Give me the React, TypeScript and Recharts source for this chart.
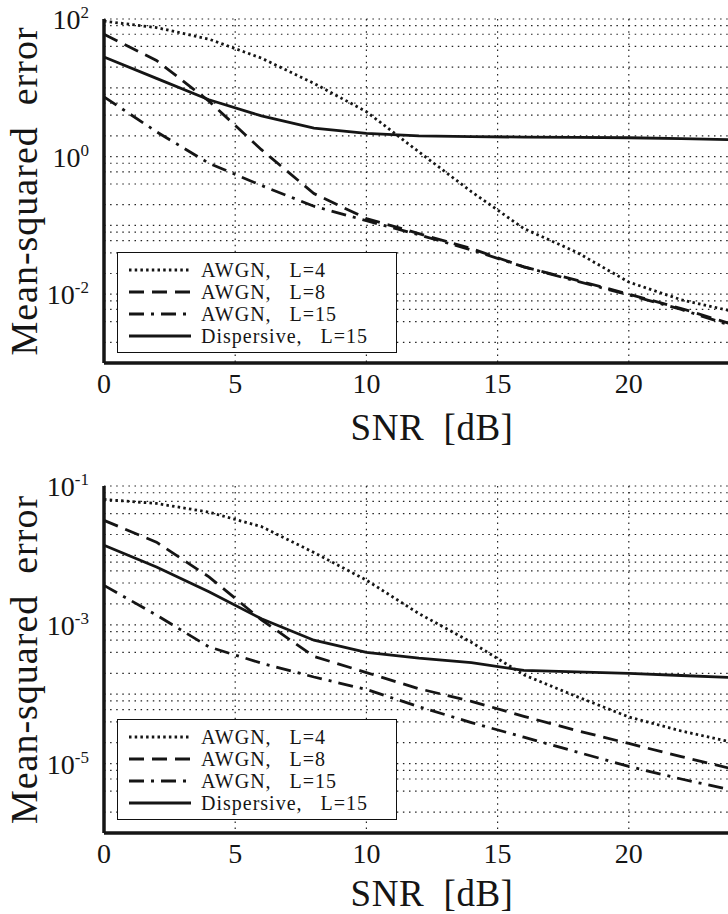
import React from "react";
import {
  LineChart,
  Line,
  XAxis,
  YAxis,
  CartesianGrid,
  Legend,
  Label,
} from "recharts";

// ---------- data ----------
const snr = [0, 2, 4, 6, 8, 10, 12, 14, 16, 18, 20, 22, 24];
const xTicks = [0, 5, 10, 15, 20];

// upper panel
const awgnL4Top = [93, 75, 51, 27, 11.6, 4.5, 1.17, 0.31, 0.09, 0.041, 0.015, 0.0083, 0.0056];
const awgnL8Top = [60, 25, 6.4, 1.26, 0.29, 0.126, 0.076, 0.046, 0.025, 0.016, 0.01, 0.0062, 0.0036];
const awgnL15Top = [7.4, 2.3, 0.8, 0.38, 0.19, 0.117, 0.073, 0.044, 0.025, 0.0155, 0.0098, 0.006, 0.0034];
const dispersiveTop = [28, 13.7, 6.7, 3.9, 2.6, 2.17, 2.0, 1.95, 1.92, 1.9, 1.88, 1.83, 1.76];

// lower panel
const awgnL4Bottom = [0.064, 0.056, 0.042, 0.026, 0.011, 0.0044, 0.00145, 0.00056, 0.00019, 0.000093, 0.000047, 0.0000295, 0.00002];
const awgnL8Bottom = [0.032, 0.0155, 0.0049, 0.00118, 0.00035, 0.000205, 0.00012, 0.000079, 0.000048, 0.00003, 0.0000195, 0.0000126, 0.0000083];
const awgnL15Bottom = [0.0037, 0.00138, 0.00048, 0.00028, 0.000177, 0.000117, 0.000066, 0.000039, 0.000024, 0.0000148, 0.0000091, 0.000006, 0.0000041];
const dispersiveBottom = [0.014, 0.0068, 0.003, 0.00122, 0.0006, 0.0004, 0.00033, 0.000285, 0.00022, 0.00021, 0.0002, 0.000186, 0.000174];

// y axes
const topDecades = [-3, -2, -1, 0, 1, 2];
const topLabeled = [2, 0, -2];
const bottomDecades = [-6, -5, -4, -3, -2, -1];
const bottomLabeled = [-1, -3, -5];
const minorSteps = [2, 4, 6, 8];

const seriesNames = ["AWGN,\u00a0\u00a0\u00a0L=4", "AWGN,\u00a0\u00a0\u00a0L=8", "AWGN,\u00a0\u00a0\u00a0L=15", "Dispersive,\u00a0\u00a0\u00a0L=15"];
const seriesKeys = ["awgnL4", "awgnL8", "awgnL15", "dispersive"];
const seriesDash = ["2.5 3.2", "15 8", "15 7 3 7", undefined];

const FONT = "Liberation Serif";
const INK = "#151515";

const buildData = (cols: number[][]) =>
  snr.map((x, i) => {
    const row: Record<string, number> = { snr: x };
    seriesKeys.forEach((k, j) => (row[k] = cols[j][i]));
    return row;
  });

const buildGrid = (decades: number[]) => {
  const out: number[] = [];
  decades.forEach((d, i) => {
    out.push(Math.pow(10, d));
    if (i < decades.length - 1) minorSteps.forEach((m) => out.push(m * Math.pow(10, d)));
  });
  return out;
};

const LogTick = (props: any) => {
  const { x, y, payload, labeled } = props;
  const exp = Math.round(Math.log10(payload.value));
  const isMajor = Math.abs(payload.value / Math.pow(10, exp) - 1) < 1e-6;
  if (!isMajor || !labeled.includes(exp)) return null;
  return (
    <text x={x} y={y + 10} textAnchor="end" style={{ fontFamily: FONT }} fontSize={28} fill={INK}>
      <tspan>10</tspan>
      <tspan dy={-11} fontSize={17}>{exp}</tspan>
    </text>
  );
};

const LegendBox = () => (
  <div
    style={{
      border: "1.5px solid #111",
      background: "#fff",
      width: 280,
      height: 101,
      boxSizing: "border-box",
      padding: "6px 0 0 10px",
      fontFamily: FONT,
      fontSize: 20,
      letterSpacing: 1,
      color: INK,
      lineHeight: "20px",
    }}
  >
    {seriesNames.map((name, i) => (
      <div key={name} style={{ display: "flex", alignItems: "center", height: 22 }}>
        <svg width={64} height={8}>
          <line x1={1} x2={63} y1={4} y2={4} stroke={INK} strokeWidth={3} strokeDasharray={seriesDash[i]} />
        </svg>
        <span style={{ marginLeft: 9, whiteSpace: "pre" }}>{name}</span>
      </div>
    ))}
  </div>
);

const Panel: React.FC<{
  data: Record<string, number>[];
  decades: number[];
  labeled: number[];
  plotHeight: number;
  legendTop: number;
  xLabelOffset: number;
}> = ({ data, decades, labeled, plotHeight, legendTop, xLabelOffset }) => {
  const grid = buildGrid(decades);
  const domain = [Math.pow(10, decades[0]), Math.pow(10, decades[decades.length - 1])];
  return (
    <LineChart
      width={800}
      height={19 + plotHeight + 86}
      data={data}
      margin={{ top: 19, right: 40, left: 0, bottom: 0 }}
    >
      <CartesianGrid stroke="#222" strokeWidth={1.2} strokeDasharray="1.5 4.6" />
      <XAxis
        dataKey="snr"
        type="number"
        domain={[0, 25]}
        ticks={xTicks}
        interval={0}
        height={86}
        tickSize={0}
        tickMargin={10}
        axisLine={{ stroke: INK, strokeWidth: 3.5 }}
        tick={{ fontSize: 28, fill: INK, style: { fontFamily: FONT } }}
      >
        <Label
          value={"SNR\u00a0\u00a0[dB]"}
          position="insideBottom"
          offset={xLabelOffset}
          style={{ fontSize: 37, fill: INK, fontFamily: FONT, letterSpacing: 0.5 }}
        />
      </XAxis>
      <XAxis
        xAxisId="top"
        orientation="top"
        dataKey="snr"
        type="number"
        domain={[0, 25]}
        height={0}
        tick={false}
        tickLine={false}
        axisLine={{ stroke: INK, strokeWidth: 3.5 }}
      />
      <YAxis
        type="number"
        scale="log"
        domain={domain}
        ticks={grid}
        interval={0}
        width={104}
        tickSize={0}
        tickMargin={15}
        tickLine={false}
        axisLine={{ stroke: INK, strokeWidth: 3.5 }}
        tick={<LogTick labeled={labeled} />}
      >
        <Label
          content={(p: any) => {
            const vb = p.viewBox;
            const cx = vb.x + 37;
            const cy = vb.y + vb.height / 2;
            return (
              <text
                x={cx}
                y={cy}
                transform={`rotate(-90 ${cx} ${cy})`}
                textAnchor="middle"
                style={{ fontFamily: FONT, letterSpacing: 1 }}
                fontSize={38}
                fill={INK}
              >
                {"Mean-squared\u00a0\u00a0error"}
              </text>
            );
          }}
        />
      </YAxis>
      <Legend
        layout="vertical"
        align="center"
        verticalAlign="middle"
        wrapperStyle={{ left: 117, top: legendTop, width: 280 }}
        content={() => <LegendBox />}
      />
      {seriesKeys.map((k, i) => (
        <Line
          key={k}
          dataKey={k}
          name={seriesNames[i]}
          type="linear"
          stroke={INK}
          strokeWidth={2.8}
          strokeDasharray={seriesDash[i]}
          dot={false}
          activeDot={false}
          isAnimationActive={false}
        />
      ))}
    </LineChart>
  );
};

const topData = buildData([awgnL4Top, awgnL8Top, awgnL15Top, dispersiveTop]);
const bottomData = buildData([awgnL4Bottom, awgnL8Bottom, awgnL15Bottom, dispersiveBottom]);

const App: React.FC = () => {
  return (
    <div
      style={{
        position: "absolute",
        left: 0,
        top: 0,
        width: 728,
        height: 914,
        overflow: "hidden",
        background: "#fff",
      }}
    >
      <div style={{ position: "absolute", left: 0, top: 0 }}>
        <Panel data={topData} decades={topDecades} labeled={topLabeled} plotHeight={344} legendTop={252} xLabelOffset={9} />
      </div>
      <div style={{ position: "absolute", left: 0, top: 467 }}>
        <Panel data={bottomData} decades={bottomDecades} labeled={bottomLabeled} plotHeight={347} legendTop={252} xLabelOffset={13} />
      </div>
    </div>
  );
};

export default App;
